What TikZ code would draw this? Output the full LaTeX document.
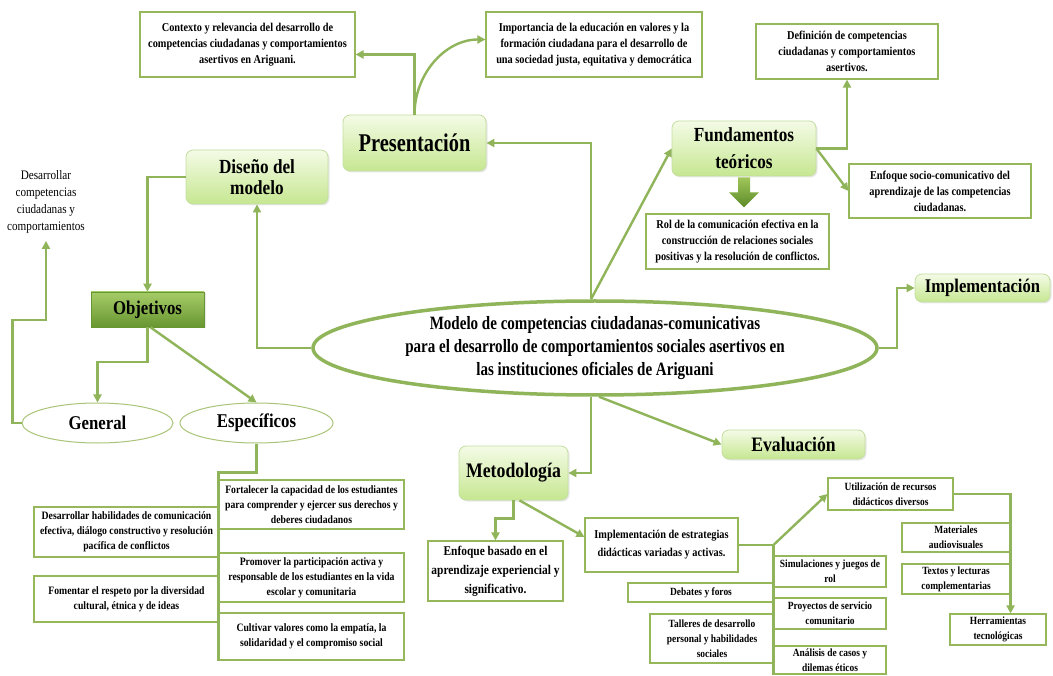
\documentclass[tikz,border=0pt]{standalone}
\usepackage{fontspec}
\setmainfont{Liberation Serif}[FakeStretch=0.86]
\newfontfamily\narrowf{Liberation Serif}[FakeStretch=0.8]
\usetikzlibrary{shapes.geometric,arrows.meta,calc,shadows}
\definecolor{lg}{RGB}{143,180,89}
\definecolor{bg}{RGB}{150,184,90}
\definecolor{eb}{RGB}{170,196,120}
\definecolor{htop}{RGB}{244,251,230}
\definecolor{hbot}{RGB}{198,231,145}
\definecolor{hbd}{RGB}{196,222,160}
\definecolor{otop}{RGB}{166,204,104}
\definecolor{obot}{RGB}{104,150,48}
\definecolor{atop}{RGB}{160,198,90}
\definecolor{abot}{RGB}{92,138,40}
\begin{document}
\begin{tikzpicture}[x=1pt,y=-1pt,
  conn/.style={draw=lg, line width=2.4pt},
  arr/.style={conn, -{Triangle[length=8pt,width=8pt]}},
  sz/.style 2 args={minimum width=#1, minimum height=#2},
  tbox/.style={draw=bg, line width=1.1pt, fill=white, align=center, inner sep=1pt, font=\bfseries\fontsize{12}{16}\selectfont},
  lbox/.style={tbox, font=\bfseries\fontsize{11.3}{15}\selectfont},
  sbox/.style={tbox, font=\bfseries\fontsize{11}{15}\selectfont},
  head/.style={rounded corners=7pt, draw=hbd, line width=0.8pt, top color=htop, bottom color=hbot, align=center, inner sep=1pt, drop shadow={opacity=0.18, shadow xshift=1.5pt, shadow yshift=-1.5pt}},
  oval/.style={ellipse, draw=eb, line width=1pt, fill=white, inner sep=0pt, font=\bfseries\fontsize{19.5}{22}\selectfont}
]
\useasboundingbox (0,0) rectangle (1053,676);
\fill[white] (0,0) rectangle (1053,676);

% central
\node[ellipse, draw=lg, line width=3.5pt, fill=white, inner sep=0pt, sz={564pt}{94pt}, align=center, font=\narrowf\bfseries\fontsize{18.8}{23}\selectfont] (cen) at (595,348)
 {Modelo de competencias ciudadanas-comunicativas\\para el desarrollo de comportamientos sociales asertivos en\\las instituciones oficiales de Ariguani};

% headings
\node[head, sz={143pt}{56pt}, font=\narrowf\bfseries\fontsize{25.5}{28}\selectfont] (pres) at (414.5,143) {Presentación};
\node[head, sz={142pt}{54pt}, font=\bfseries\fontsize{20}{21}\selectfont] (dis) at (257,177) {Diseño del\\modelo};
\node[head, sz={144pt}{55pt}, font=\bfseries\fontsize{20}{27}\selectfont] (fund) at (744,148.5) {Fundamentos\\teóricos};
\node[head, sz={135pt}{28pt}, font=\bfseries\fontsize{19.3}{20}\selectfont] (implH) at (982.5,288) {Implementación};
\node[head, sz={143pt}{29pt}, font=\bfseries\fontsize{20.5}{21}\selectfont] (eval) at (793.5,444.5) {Evaluación};
\node[head, sz={109pt}{54pt}, font=\bfseries\fontsize{20.7}{22}\selectfont] (met) at (513.5,473) {Metodología};
\node[draw=obot, line width=0.6pt, top color=otop, bottom color=obot, sz={113pt}{35pt}, font=\bfseries\fontsize{19.5}{21}\selectfont, drop shadow={opacity=0.18, shadow xshift=1.5pt, shadow yshift=-1.5pt}] (obj) at (147.5,309.5) {Objetivos};

% ovals
\node[oval, sz={151pt}{40pt}] (gen) at (97.5,423) {General};
\node[oval, sz={153pt}{40pt}] (esp) at (256.5,423) {Específicos};

% free text
\node[align=center, font=\fontsize{13}{17}\selectfont] (desc) at (46,202) {Desarrollar\\competencias\\ciudadanas y\\comportamientos};

% top boxes
\node[tbox, sz={215pt}{65pt}] (ctx) at (247.5,44.5) {Contexto y relevancia del desarrollo de\\competencias ciudadanas y comportamientos\\asertivos en Ariguani.};
\node[tbox, sz={216pt}{65pt}] (imp) at (594,44.5) {Importancia de la educación en valores y la\\formación ciudadana  para el desarrollo de\\una sociedad justa, equitativa y democrática};
\node[tbox, sz={182pt}{55pt}] (def) at (847,51.5) {Definición de competencias\\ciudadanas y comportamientos\\asertivos.};
\node[tbox, sz={182pt}{54pt}] (enf) at (940,191) {Enfoque socio-comunicativo del\\aprendizaje de las competencias\\ciudadanas.};
\node[tbox, sz={183pt}{55pt}] (rol) at (737.5,241.5) {Rol de la comunicación efectiva en la\\construcción de relaciones sociales\\positivas y la resolución de conflictos.};

% objetivos especificos
\node[lbox, sz={185pt}{49pt}] (fort) at (311.5,504.5) {Fortalecer la capacidad de los estudiantes\\para comprender y ejercer sus derechos y\\deberes ciudadanos};
\node[lbox, sz={185pt}{50pt}] (desh) at (126.5,532) {Desarrollar  habilidades de comunicación\\efectiva, diálogo constructivo y resolución\\pacífica de conflictos};
\node[lbox, sz={185pt}{49pt}] (prom) at (311.5,577.5) {Promover la participación activa y\\responsable de los estudiantes en la vida\\escolar y comunitaria};
\node[lbox, sz={185pt}{46pt}] (fom) at (126.5,599) {Fomentar el respeto por la diversidad\\cultural, étnica y de ideas};
\node[lbox, sz={185pt}{47pt}] (cult) at (311.5,636.5) {Cultivar valores como la empatía, la\\solidaridad y el compromiso social};

% metodologia
\node[tbox, sz={135pt}{60pt}, font=\bfseries\fontsize{13.3}{19}\selectfont] (enfb) at (495.5,571) {Enfoque basado en el\\aprendizaje experiencial y\\significativo.};
\node[tbox, sz={153pt}{54pt}, font=\bfseries\fontsize{12}{18}\selectfont] (impE) at (661.5,545) {Implementación de estrategias\\didácticas variadas y activas.};
\node[sbox, sz={125pt}{32pt}] (util) at (890.5,494) {Utilización de recursos\\didácticos diversos};
\node[sbox, sz={112pt}{31pt}] (sim) at (830,571.5) {Simulaciones y juegos de\\rol};
\node[sbox, sz={146pt}{19pt}] (deb) at (701,592.5) {Debates y foros};
\node[sbox, sz={112pt}{31pt}] (proy) at (830,613.5) {Proyectos de servicio\\comunitario};
\node[sbox, sz={124pt}{49pt}] (tall) at (712,638.5) {Talleres de desarrollo\\personal y habilidades\\sociales};
\node[sbox, sz={112pt}{28pt}] (anal) at (830,660) {Análisis de casos y\\dilemas éticos};
\node[sbox, sz={108pt}{29pt}] (mat) at (956,537.5) {Materiales\\audiovisuales};
\node[sbox, sz={108pt}{30pt}] (tex) at (956,579) {Textos y lecturas\\complementarias};
\node[sbox, sz={96pt}{31pt}] (herr) at (998,629.5) {Herramientas\\tecnológicas};

% big arrow
\shade[top color=atop, bottom color=abot] ($(fund.south)+(-6,1)$) -- ++(12,0) -- ++(0,15) -- ++(9,0) -- ++(-15,15) -- ++(-15,-15) -- ++(9,0) -- cycle;

% connectors
\draw[arr] ([xshift=-4pt]cen.north) |- (pres.east);
\draw[arr] ([xshift=-4pt]cen.north) -- (fund.west);
\draw[arr] (pres.north) |- ([yshift=-10pt]ctx.east);
\draw[arr] (pres.north) to[out=90,in=180] ([yshift=5pt]imp.west);
\draw[arr] (cen.west) -| (dis.south);
\draw[arr] (dis.west) -| (obj.north);
\draw[arr] (obj.south) -- ++(0,35) -| (gen.north);
\draw[arr] ([xshift=3pt]obj.south) -- (esp.north);
\draw[arr] (gen.west) -- ++(-9,0) -- ++(0,-103) -| ([yshift=-4pt]desc.south);
\draw[conn] (esp.south) -- ++(0,29) -| (cult.south west);
\draw[arr] ([xshift=-4pt]cen.south) |- (met.east);
\draw[arr] ([xshift=4pt]cen.south) -- (eval.west);
\draw[arr] (cen.east) -- ++(18,0) |- (implH.west);
\draw[arr] (fund.east) -| (def.south);
\draw[arr] (fund.east) -- (enf.west);
\draw[arr] (met.south) -- ++(0,18) -| (enfb.north);
\draw[arr] ([xshift=6pt]met.south) -- ([yshift=8pt]impE.west);
\draw[conn] (impE.east) -| (anal.south west);
\draw[arr] (impE.east -| sim.west) -- (util.west);
\draw[arr] (util.east) -| (mat.east |- herr.north);
\end{tikzpicture}
\end{document}
